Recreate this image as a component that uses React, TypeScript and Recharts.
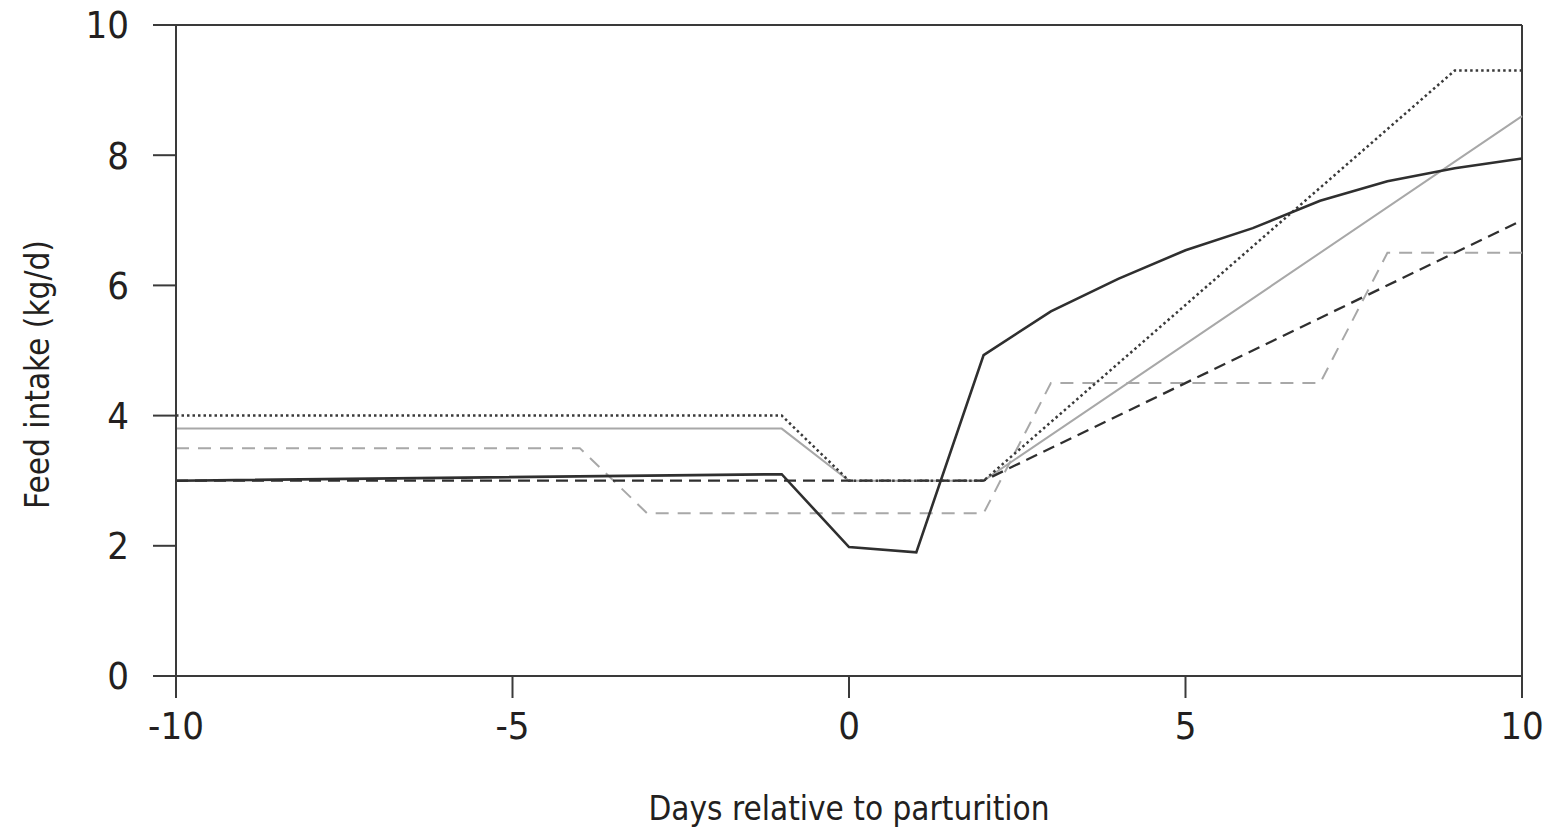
import React from 'react'
import { LineChart, Line, XAxis, YAxis, ReferenceLine } from 'recharts'

// day, feed intake (kg/d) — breakpoints
const darkSolid = [
  { day: -10, v: 3.0 },
  { day: -1, v: 3.1 },
  { day: 0, v: 1.98 },
  { day: 1, v: 1.9 },
  { day: 2, v: 4.93 },
  { day: 3, v: 5.6 },
  { day: 4, v: 6.1 },
  { day: 5, v: 6.54 },
  { day: 6, v: 6.88 },
  { day: 7, v: 7.3 },
  { day: 8, v: 7.6 },
  { day: 9, v: 7.8 },
  { day: 10, v: 7.95 },
]
const darkDotted = [
  { day: -10, v: 4.0 },
  { day: -1, v: 4.0 },
  { day: 0, v: 3.0 },
  { day: 2, v: 3.0 },
  { day: 9, v: 9.3 },
  { day: 10, v: 9.3 },
]
const graySolid = [
  { day: -10, v: 3.8 },
  { day: -1, v: 3.8 },
  { day: 0, v: 3.0 },
  { day: 2, v: 3.0 },
  { day: 10, v: 8.6 },
]
const darkDashed = [
  { day: -10, v: 3.0 },
  { day: 2, v: 3.0 },
  { day: 10, v: 7.0 },
]
const grayDashed = [
  { day: -10, v: 3.5 },
  { day: -4, v: 3.5 },
  { day: -3, v: 2.5 },
  { day: 2, v: 2.5 },
  { day: 3, v: 4.5 },
  { day: 7, v: 4.5 },
  { day: 8, v: 6.5 },
  { day: 10, v: 6.5 },
]

const xTicks = [-10, -5, 0, 5, 10]
const yTicks = [0, 2, 4, 6, 8, 10]

const FONT = '"Liberation Sans Narrow", "DejaVu Sans Condensed", "Open Sans", sans-serif'
const AXIS = '#3a3a3a'
const DARK = '#2f2f2f'
const GRAY = '#a8a8a8'

const tickStyle = { fontFamily: FONT, fontSize: 38, fill: '#231f20' }

function YLabel({ viewBox }: any) {
  const cx = 37
  const cy = viewBox.y + viewBox.height / 2 + 24
  return (
    <text
      x={cx}
      y={cy}
      transform={`rotate(-90 ${cx} ${cy})`}
      textAnchor="middle"
      dominantBaseline="central"
      style={{ fontFamily: FONT, fontSize: 33, fill: '#231f20' }}
    >
      Feed intake (kg/d)
    </text>
  )
}

export default function App() {
  return (
    <div style={{ position: 'absolute', left: 0, top: 0, background: '#fff' }}>
      <LineChart width={1544} height={834} margin={{ top: 25, right: 22, left: 0, bottom: 0 }}>
        <XAxis
          type="number"
          dataKey="day"
          domain={[-10, 10]}
          ticks={xTicks}
          allowDuplicatedCategory={false}
          height={158}
          tickSize={22}
          tickMargin={14}
          tick={tickStyle}
          axisLine={{ stroke: AXIS, strokeWidth: 2 }}
          tickLine={{ stroke: AXIS, strokeWidth: 2 }}
          label={{
            value: 'Days relative to parturition',
            position: 'insideBottom',
            offset: 14,
            style: { fontFamily: FONT, fontSize: 33, fill: '#231f20' },
          }}
        />
        <YAxis
          type="number"
          domain={[0, 10]}
          ticks={yTicks}
          width={176}
          tickSize={23}
          tickMargin={24}
          tick={tickStyle}
          axisLine={{ stroke: AXIS, strokeWidth: 2 }}
          tickLine={{ stroke: AXIS, strokeWidth: 2 }}
          label={<YLabel />}
        />
        <ReferenceLine y={10} stroke={AXIS} strokeWidth={2} />
        <ReferenceLine x={10} stroke={AXIS} strokeWidth={2} />
        <Line data={grayDashed} dataKey="v" type="linear" stroke={GRAY} strokeWidth={2} strokeDasharray="13 9" dot={false} isAnimationActive={false} />
        <Line data={graySolid} dataKey="v" type="linear" stroke={GRAY} strokeWidth={2} dot={false} isAnimationActive={false} />
        <Line data={darkDashed} dataKey="v" type="linear" stroke={DARK} strokeWidth={2.3} strokeDasharray="12 7" dot={false} isAnimationActive={false} />
        <Line data={darkDotted} dataKey="v" type="linear" stroke="#3a3a3a" strokeWidth={2.5} strokeDasharray="2.5 3" dot={false} isAnimationActive={false} />
        <Line data={darkSolid} dataKey="v" type="linear" stroke={DARK} strokeWidth={2.6} dot={false} isAnimationActive={false} />
      </LineChart>
    </div>
  )
}
